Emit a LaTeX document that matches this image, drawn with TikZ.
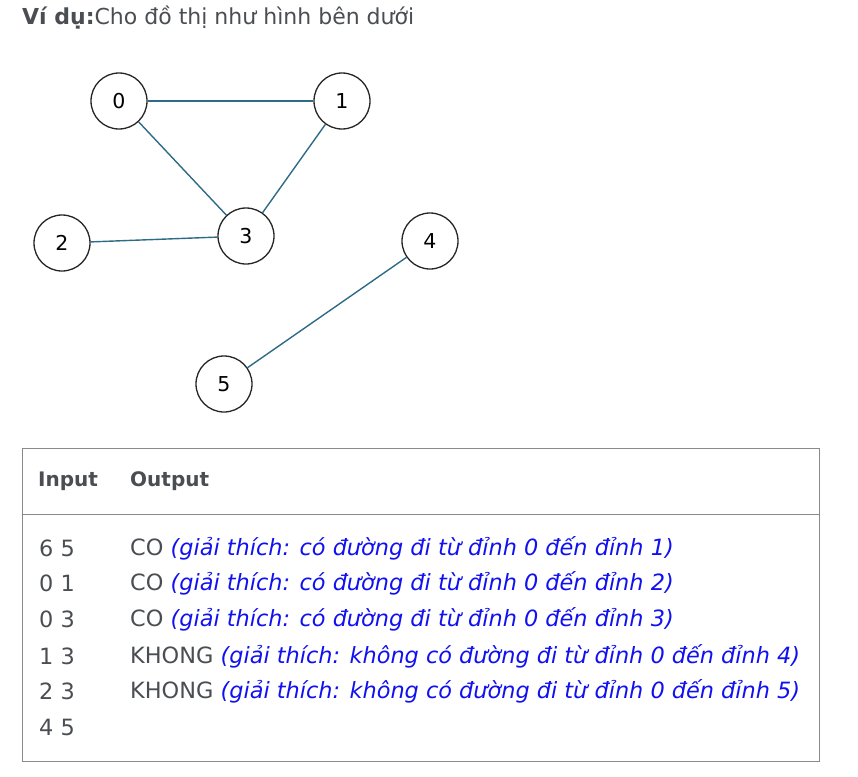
\documentclass[tikz,border=0pt]{standalone}
\usepackage{fontspec}
\setmainfont{DejaVu Sans}
\definecolor{txt}{HTML}{4A4D52}
\definecolor{edgec}{HTML}{2E6B86}
\definecolor{expl}{HTML}{1010F0}
\definecolor{frame}{HTML}{8A8A8A}
\begin{document}
\begin{tikzpicture}[x=1pt,y=-1pt,
  vert/.style={draw=black!85,line width=1.3pt,circle,minimum size=56pt,inner sep=0pt,font=\fontsize{20.5}{24}\selectfont},
  conn/.style={draw=edgec,line width=1.4pt},
  txtnode/.style={anchor=west,inner sep=0pt,text=txt,font=\fontsize{22.4}{26}\selectfont},
  headnode/.style={anchor=west,inner sep=0pt,text=txt,font=\fontsize{20}{24}\selectfont\bfseries}]
\useasboundingbox (0,0) rectangle (858,776);
\node[txtnode,font=\fontsize{22}{26}\selectfont] (title) at (22,18) {\textbf{Ví dụ:}Cho đồ thị như hình bên dưới};
\node[vert] (n0) at (119,101) {0};
\node[vert] (n1) at (342,101) {1};
\node[vert] (n2) at (62,243) {2};
\node[vert] (n3) at (246,236) {3};
\node[vert] (n4) at (430,241) {4};
\node[vert] (n5) at (224,384) {5};
\draw[conn] (n0) -- (n1);
\draw[conn] (n0) -- (n3);
\draw[conn] (n1) -- (n3);
\draw[conn] (n2) -- (n3);
\draw[conn] (n4) -- (n5);
\draw[draw=frame,line width=1pt] (22,448) rectangle (819,761);
\draw[draw=frame,line width=1pt] (22,514) -- (819,514);
\node[headnode] (hin) at (38,481) {Input};
\node[headnode] (hout) at (130,481) {Output};
\node[txtnode] (i1) at (39,548) {6 5};
\node[txtnode] (i2) at (39,583) {0 1};
\node[txtnode] (i3) at (39,619) {0 3};
\node[txtnode] (i4) at (39,656) {1 3};
\node[txtnode] (i5) at (39,691) {2 3};
\node[txtnode] (i6) at (39,727) {4 5};
\node[txtnode] (o1) at (130,548) {CO {\color{expl}\itshape (giải thích: có đường đi từ đỉnh 0 đến đỉnh 1)}};
\node[txtnode] (o2) at (130,583) {CO {\color{expl}\itshape (giải thích: có đường đi từ đỉnh 0 đến đỉnh 2)}};
\node[txtnode] (o3) at (130,619) {CO {\color{expl}\itshape (giải thích: có đường đi từ đỉnh 0 đến đỉnh 3)}};
\node[txtnode] (o4) at (130,656) {KHONG {\color{expl}\itshape (giải thích: không có đường đi từ đỉnh 0 đến đỉnh 4)}};
\node[txtnode] (o5) at (130,691) {KHONG {\color{expl}\itshape (giải thích: không có đường đi từ đỉnh 0 đến đỉnh 5)}};
\end{tikzpicture}
\end{document}
